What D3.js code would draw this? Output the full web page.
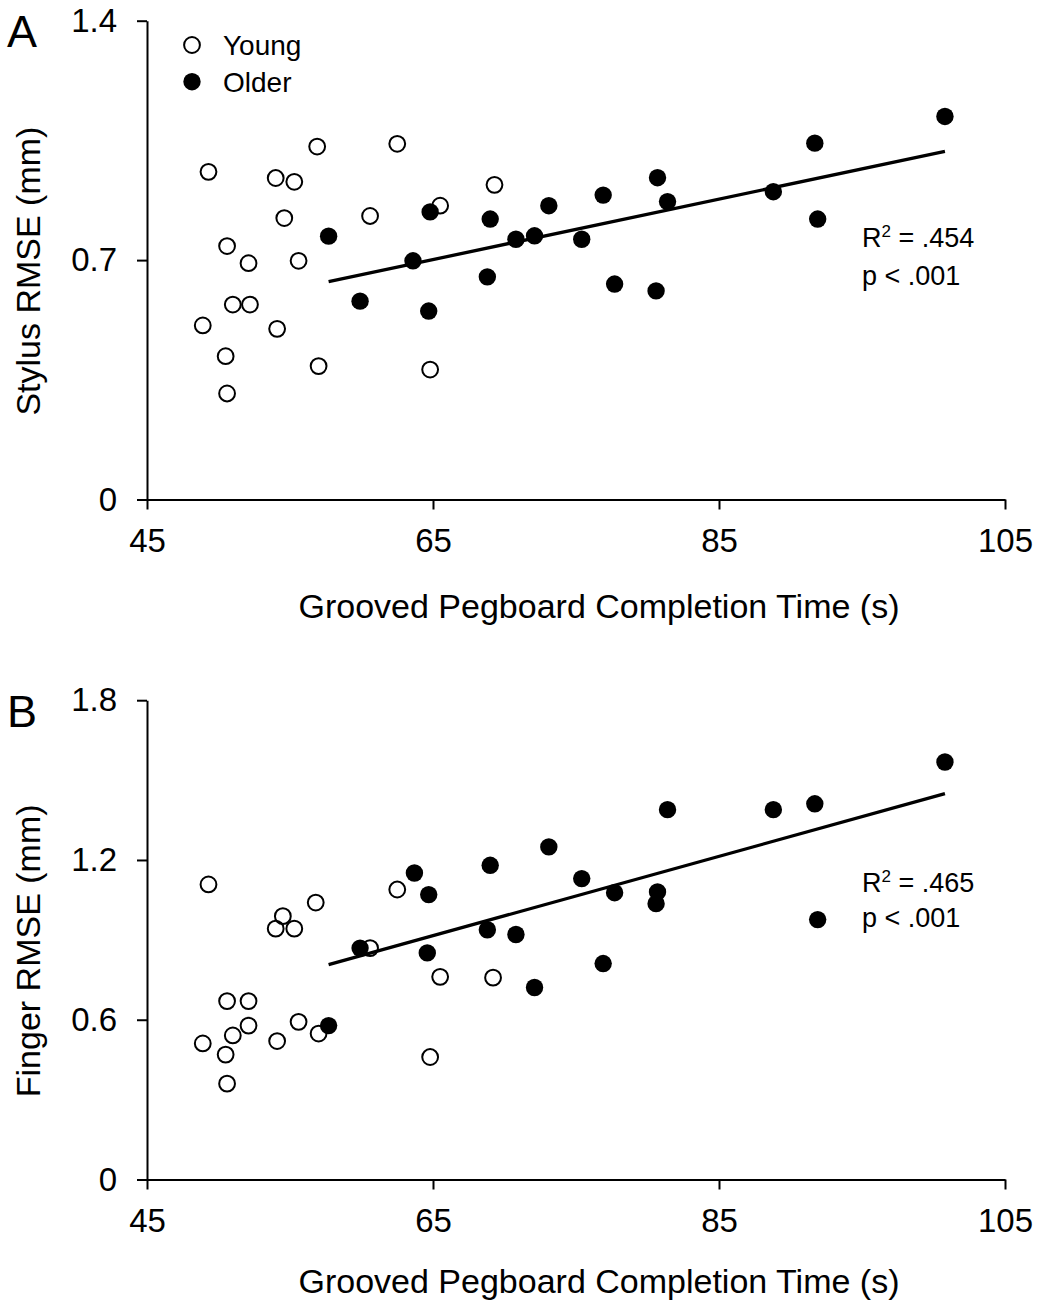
<!DOCTYPE html>
<html>
<head>
<meta charset="utf-8">
<script src="https://cdn.jsdelivr.net/npm/d3@7"></script>
<style>
  body { margin: 0; background: #fff; }
  svg { display: block; font-family: "Liberation Sans", Arial, sans-serif; }
</style>
</head>
<body>
<svg id="chart" width="1038" height="1302"></svg>
<script>
// Grooved Pegboard completion time (s) vs RMSE (mm), [time, rmse]
const youngStylus = [
  [49.3, 0.958], [56.9, 1.032], [62.5, 1.040], [54.0, 0.940], [55.3, 0.929],
  [54.6, 0.823], [60.6, 0.829], [65.5, 0.859], [50.6, 0.741], [69.3, 0.920],
  [52.1, 0.691], [55.6, 0.698], [51.0, 0.570], [52.2, 0.570], [48.9, 0.509],
  [54.1, 0.499], [50.5, 0.419], [57.0, 0.390], [64.8, 0.380], [50.6, 0.310]
];
const olderStylus = [
  [57.7, 0.770], [64.8, 0.841], [63.6, 0.698], [59.9, 0.580], [64.7, 0.551],
  [69.0, 0.820], [73.1, 0.859], [76.9, 0.890], [80.7, 0.941], [81.4, 0.871],
  [70.8, 0.761], [72.1, 0.771], [75.4, 0.761], [68.8, 0.651], [77.7, 0.630],
  [80.6, 0.610], [100.8, 1.120], [91.7, 1.042], [88.8, 0.900], [91.9, 0.820]
];
const youngFinger = [
  [49.3, 1.108], [54.5, 0.989], [54.0, 0.942], [55.3, 0.942], [56.8, 1.040],
  [62.5, 1.089], [60.6, 0.869], [65.5, 0.761], [69.2, 0.758], [50.6, 0.670],
  [52.1, 0.670], [52.1, 0.578], [55.6, 0.592], [51.0, 0.541], [48.9, 0.511],
  [54.1, 0.520], [57.0, 0.548], [50.5, 0.469], [64.8, 0.460], [50.6, 0.360]
];
const olderFinger = [
  [63.7, 1.151], [64.7, 1.070], [59.9, 0.869], [64.6, 0.851], [57.7, 0.578],
  [69.0, 1.180], [73.1, 1.249], [81.4, 1.389], [75.4, 1.130], [77.7, 1.077],
  [80.7, 1.080], [80.6, 1.036], [68.8, 0.938], [70.8, 0.920], [76.9, 0.811],
  [72.1, 0.721], [100.8, 1.568], [88.8, 1.389], [91.7, 1.411], [91.9, 0.976]
];

// regression line end points
const stylusFit = [[57.7, 0.637], [100.8, 1.018]];
const fingerFit = [[57.7, 0.807], [100.8, 1.449]];

const xTicks = [45, 65, 85, 105];
const stylusTicks = [0, 0.7, 1.4];
const fingerTicks = [0, 0.6, 1.2, 1.8];

const xLabel = "Grooved Pegboard Completion Time (s)";
const legendLabels = ["Young", "Older"];

const svg = d3.select("#chart");

const x = d3.scaleLinear().domain([45, 105]).range([147, 1005]);

const openR = 7.9, filledR = 8.7;

function drawPanel(opts) {
  const g = svg.append("g");
  const y = d3.scaleLinear().domain(opts.yDomain).range(opts.yRange);
  const bottom = opts.yRange[0];

  // axes
  const xAxis = d3.axisBottom(x)
    .tickValues(xTicks)
    .tickSize(10)
    .tickSizeOuter(0)
    .tickPadding(19)
    .tickFormat(d3.format("d"));

  const yAxis = d3.axisLeft(y)
    .tickValues(opts.yTicks)
    .tickSize(10)
    .tickSizeOuter(0)
    .tickPadding(20)
    .tickFormat(d => d === 0 ? "0" : d3.format(".1f")(d));

  const gx = g.append("g")
    .attr("transform", `translate(0,${bottom})`)
    .call(xAxis);
  const gy = g.append("g")
    .attr("transform", `translate(${x.range()[0]},0)`)
    .call(yAxis);

  [gx, gy].forEach(a => {
    a.selectAll("path, line").attr("stroke", "#000").attr("stroke-width", 2);
    a.selectAll("text")
      .attr("fill", "#000")
      .style("font-family", "'Liberation Sans', Arial, sans-serif")
      .style("font-size", "33px");
  });

  // axis titles
  g.append("text")
    .attr("x", 599)
    .attr("y", opts.titleY)
    .attr("text-anchor", "middle")
    .style("font-size", "34px")
    .text(xLabel);

  const midY = (opts.yRange[0] + opts.yRange[1]) / 2 + 11;
  g.append("text")
    .attr("transform", `translate(40,${midY})rotate(-90)`)
    .attr("text-anchor", "middle")
    .style("font-size", "34px")
    .text(opts.yLabel);

  // panel letter
  g.append("text")
    .attr("x", 7)
    .attr("y", opts.yRange[1] + 26.5)
    .style("font-size", "45px")
    .text(opts.letter);

  // fit line
  g.append("path")
    .datum(opts.fit)
    .attr("fill", "none")
    .attr("stroke", "#000")
    .attr("stroke-width", 3.3)
    .attr("d", d3.line().x(d => x(d[0])).y(d => y(d[1])));

  // older (filled)
  g.append("g").selectAll("circle")
    .data(opts.older)
    .join("circle")
    .attr("cx", d => x(d[0]))
    .attr("cy", d => y(d[1]))
    .attr("r", filledR)
    .attr("fill", "#000");

  // young (open)
  g.append("g").selectAll("circle")
    .data(opts.young)
    .join("circle")
    .attr("cx", d => x(d[0]))
    .attr("cy", d => y(d[1]))
    .attr("r", openR)
    .attr("fill", "none")
    .attr("stroke", "#000")
    .attr("stroke-width", 2);

  // stats text
  const st = g.append("text")
    .attr("x", 862)
    .attr("y", opts.statY[0])
    .style("font-size", "27px");
  st.append("tspan").text("R");
  st.append("tspan").attr("dy", -10).style("font-size", "17px").text("2");
  st.append("tspan").attr("dy", 10).text(` = ${opts.r2}`);

  g.append("text")
    .attr("x", 862)
    .attr("y", opts.statY[1])
    .style("font-size", "27px")
    .text("p < .001");

  return y;
}

drawPanel({
  letter: "A",
  yLabel: "Stylus RMSE (mm)",
  yDomain: [0, 1.4],
  yRange: [499.5, 20.7],
  yTicks: stylusTicks,
  young: youngStylus,
  older: olderStylus,
  fit: stylusFit,
  r2: ".454",
  statY: [247, 285],
  titleY: 618
});

drawPanel({
  letter: "B",
  yLabel: "Finger RMSE (mm)",
  yDomain: [0, 1.8],
  yRange: [1179.5, 700.2],
  yTicks: fingerTicks,
  young: youngFinger,
  older: olderFinger,
  fit: fingerFit,
  r2: ".465",
  statY: [892, 927],
  titleY: 1293
});

// legend (panel A only)
const legend = svg.append("g").attr("class", "legend");
legendLabels.forEach((label, i) => {
  const cy = 45 + i * 36.7;
  legend.append("circle")
    .attr("cx", 192)
    .attr("cy", cy)
    .attr("r", i === 0 ? openR : filledR)
    .attr("fill", i === 0 ? "none" : "#000")
    .attr("stroke", i === 0 ? "#000" : "none")
    .attr("stroke-width", 2);
  legend.append("text")
    .attr("x", 223)
    .attr("y", cy + 10)
    .style("font-size", "28px")
    .text(label);
});
</script>
</body>
</html>
